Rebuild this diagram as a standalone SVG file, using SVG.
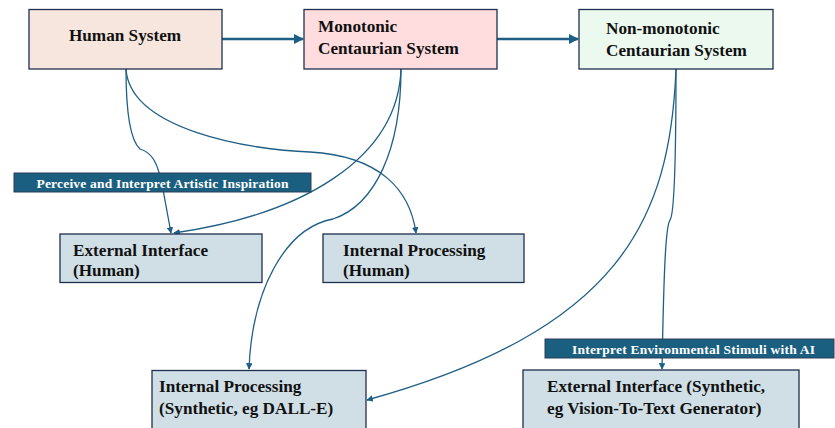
<svg xmlns="http://www.w3.org/2000/svg" width="835" height="428" viewBox="0 0 835 428">
<defs>
<style>
.box{stroke:#1f2f4f;stroke-width:1.3}
.t{font-family:'Liberation Serif','DejaVu Serif',Times,serif;font-weight:700;font-size:17.2px;fill:#111}
.lbl{fill:#1b5f80;stroke:#2c3e57;stroke-width:1}
.lt{font-family:'Liberation Serif','DejaVu Serif',Times,serif;font-weight:700;font-size:13.5px;fill:#fff;text-anchor:middle}
.thick{fill:none;stroke:#1f5f85;stroke-width:2.5;marker-end:url(#ah)}
.thin{fill:none;stroke:#1f5f85;stroke-width:1.3;marker-end:url(#as)}
</style>
<marker id="ah" viewBox="0 0 10 10" refX="9" refY="5" markerWidth="4" markerHeight="4" orient="auto" markerUnits="strokeWidth"><path d="M0,0 L10,5 L0,10 z" fill="#1f5f85"/></marker>
<marker id="as" viewBox="0 0 10 10" refX="9" refY="5" markerWidth="5" markerHeight="5" orient="auto" markerUnits="strokeWidth"><path d="M0,0 L10,5 L0,10 z" fill="#1f5f85"/></marker>
</defs>
<rect width="835" height="428" fill="#fff"/>
<g id="connectors">
<path class="thick" d="M222,39 L303,39"/>
<path class="thick" d="M497,39 L578,39"/>
<path class="thin" d="M126,69 C126,110 130,140 140,149 C150,152 158,158 164,195 L171,233"/>
<path class="thin" d="M126,69 C130,130 250,150 310,152 C380,156 410,190 416,233"/>
<path class="thin" d="M401,69 C398,160 300,215 174,233"/>
<path class="thin" d="M401,69 C401,150 375,205 333,219 C285,228 252,290 249,369"/>
<path class="thin" d="M676,69 C670,220 620,330 367,400"/>
<path class="thin" d="M676,69 C676,150 674,215 670,220 C666,226 664,260 662,369"/>
</g>
<g id="human-system">
<rect class="box" x="29" y="9.5" width="193" height="59.5" fill="#f6e6de"/>
<text class="t" x="125" y="41" text-anchor="middle">Human System</text>
</g>
<g id="monotonic">
<rect class="box" x="304" y="9.5" width="193" height="59.5" fill="#ffdcde"/>
<text class="t" x="318" y="32">Monotonic</text>
<text class="t" x="318" y="54">Centaurian System</text>
</g>
<g id="non-monotonic">
<rect class="box" x="579" y="9.5" width="194" height="59.5" fill="#ebf9ee"/>
<text class="t" x="606" y="34">Non-monotonic</text>
<text class="t" x="606" y="56">Centaurian System</text>
</g>
<g id="label-perceive">
<rect class="lbl" x="14" y="173" width="297" height="19"/>
<text class="lt" x="162.5" y="187.5" textLength="252" lengthAdjust="spacing">Perceive and Interpret Artistic Inspiration</text>
</g>
<g id="ext-human">
<rect class="box" x="60" y="234" width="202" height="48.5" fill="#d0dfe6"/>
<text class="t" x="73" y="256">External Interface</text>
<text class="t" x="73" y="276">(Human)</text>
</g>
<g id="int-human">
<rect class="box" x="323" y="234" width="201" height="48.5" fill="#d0dfe6"/>
<text class="t" x="343" y="256">Internal Processing</text>
<text class="t" x="343" y="276">(Human)</text>
</g>
<g id="label-interpret">
<rect class="lbl" x="545" y="339" width="289" height="19"/>
<text class="lt" x="693.5" y="353.5" textLength="243" lengthAdjust="spacing">Interpret Environmental Stimuli with AI</text>
</g>
<g id="int-synthetic">
<rect class="box" x="152" y="370.5" width="214" height="62" fill="#d0dfe6"/>
<text class="t" x="159" y="392">Internal Processing</text>
<text class="t" x="159" y="414">(Synthetic, eg DALL-E)</text>
</g>
<g id="ext-synthetic">
<rect class="box" x="523" y="370" width="276" height="62" fill="#d0dfe6"/>
<text class="t" x="547" y="392">External Interface (Synthetic,</text>
<text class="t" x="547" y="414">eg Vision-To-Text Generator)</text>
</g>
</svg>
